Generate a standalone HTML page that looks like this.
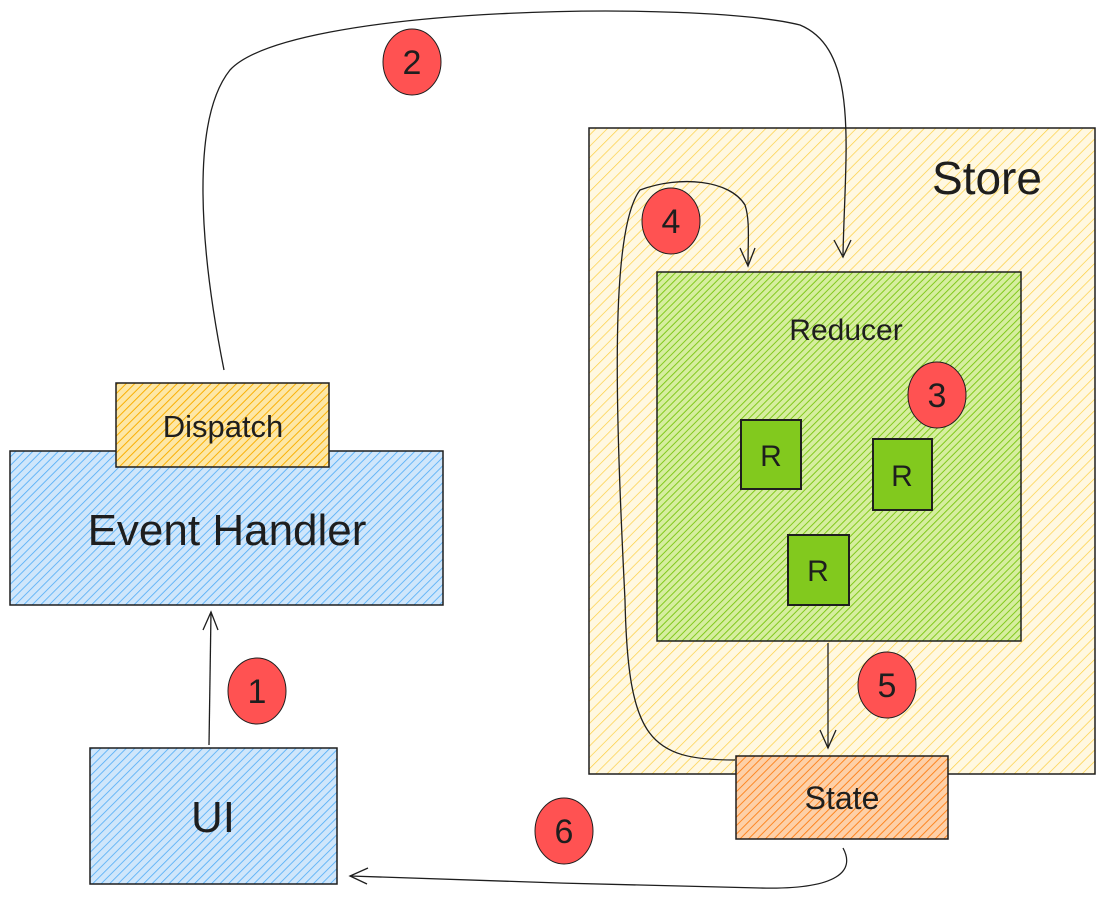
<!DOCTYPE html>
<html><head><meta charset="utf-8"><style>
html,body{margin:0;padding:0;background:#fff;}
svg{display:block}
text{font-family:"Liberation Sans",sans-serif;fill:#1e1e1e}
</style></head><body>
<svg width="1104" height="899" viewBox="0 0 1104 899" xmlns="http://www.w3.org/2000/svg">
<defs>
<pattern id="hy" width="8" height="8" patternUnits="userSpaceOnUse" patternTransform="rotate(45)">
<rect width="8" height="8" fill="#fff8e1"/><line x1="0" y1="0" x2="0" y2="8" stroke="#fcc419" stroke-width="1.4" opacity="0.8"/></pattern>
<pattern id="hg" width="5" height="5" patternUnits="userSpaceOnUse" patternTransform="rotate(45)">
<rect width="5" height="5" fill="#d6ee9f"/><line x1="0" y1="0" x2="0" y2="5" stroke="#82c91e" stroke-width="2"/></pattern>
<pattern id="hd" width="6" height="6" patternUnits="userSpaceOnUse" patternTransform="rotate(45)">
<rect width="6" height="6" fill="#fde7a6"/><line x1="0" y1="0" x2="0" y2="6" stroke="#fab005" stroke-width="2"/></pattern>
<pattern id="hb" width="6" height="6" patternUnits="userSpaceOnUse" patternTransform="rotate(45)">
<rect width="6" height="6" fill="#cfe6fb"/><line x1="0" y1="0" x2="0" y2="6" stroke="#4dabf7" stroke-width="1.6"/></pattern>
<pattern id="ho" width="6" height="6" patternUnits="userSpaceOnUse" patternTransform="rotate(45)">
<rect width="6" height="6" fill="#fdd0a8"/><line x1="0" y1="0" x2="0" y2="6" stroke="#fd7e14" stroke-width="1.8"/></pattern>
</defs>
<g stroke="#1e1e1e" stroke-width="1.5">
<rect x="589" y="128" width="506" height="646" fill="url(#hy)"/>
<rect x="657" y="272" width="364" height="369" fill="url(#hg)"/>
<rect x="10" y="451" width="433" height="154" fill="url(#hb)"/>
<rect x="116" y="383" width="213" height="84" fill="url(#hd)"/>
<rect x="90" y="748" width="247" height="136" fill="url(#hb)"/>
<rect x="736" y="756" width="212" height="83" fill="url(#ho)"/>
<rect x="741" y="420" width="60" height="69" fill="#82c91e" stroke-width="2"/>
<rect x="873" y="439" width="59" height="71" fill="#82c91e" stroke-width="2"/>
<rect x="788" y="535" width="61" height="70" fill="#82c91e" stroke-width="2"/>
</g>
<g fill="none" stroke="#1e1e1e" stroke-width="1.3">
<path d="M224 370 C 200 250, 190 120, 230 70 C 290 5, 700 0, 800 25 C 860 50, 845 150, 843 255"/>
<path d="M834 240 L843 257 L851 240"/>
<path d="M209 745 L211 612"/><path d="M203 630 L211 612 L218 630"/>
<path d="M828 643 L828 748"/><path d="M820 730 L828 748 L836 730"/>
<path d="M735 760 C 650 760, 628 740, 625 600 C 615 400, 610 230, 640 190 C 680 175, 730 180, 745 205 C 750 220, 748 240, 748 265"/>
<path d="M740 248 L748 266 L755 248"/>
<path d="M843 848 C 855 870, 840 890, 760 888 C 650 886, 450 880, 350 876"/>
<path d="M368 868 L350 876 L367 884"/>
</g>
<g fill="#ff5252" stroke="#1e1e1e" stroke-width="1">
<ellipse cx="412" cy="62" rx="29" ry="33"/>
<ellipse cx="671" cy="221" rx="29" ry="33"/>
<ellipse cx="937" cy="395" rx="29" ry="33"/>
<ellipse cx="257" cy="691" rx="29" ry="33"/>
<ellipse cx="887" cy="685" rx="29" ry="33"/>
<ellipse cx="564" cy="831" rx="29" ry="33"/>
</g>
<g font-size="34" text-anchor="middle">
<text x="412" y="74">2</text><text x="671" y="233">4</text><text x="937" y="407">3</text>
<text x="257" y="703">1</text><text x="887" y="697">5</text><text x="564" y="843">6</text>
</g>
<g text-anchor="middle">
<text x="987" y="194" font-size="46">Store</text>
<text x="846" y="340" font-size="30">Reducer</text>
<text x="771" y="466" font-size="30">R</text>
<text x="902" y="486" font-size="30">R</text>
<text x="818" y="581" font-size="30">R</text>
<text x="223" y="437" font-size="31">Dispatch</text>
<text x="227" y="545" font-size="44">Event Handler</text>
<text x="213" y="832" font-size="44">UI</text>
<text x="842" y="809" font-size="32">State</text>
</g>
</svg>
</body></html>
